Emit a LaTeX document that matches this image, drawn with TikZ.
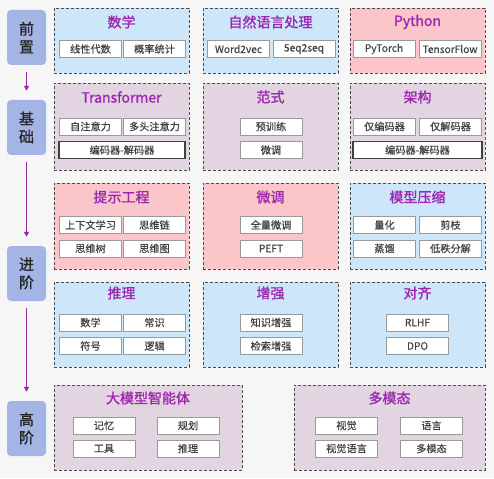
\documentclass[tikz,border=0pt]{standalone}
\usepackage{fontspec}
\usetikzlibrary{arrows.meta}
\setmainfont{Noto Sans CJK SC}
\newfontfamily\titlefont[FakeBold=1.3]{Noto Sans CJK SC}
\newfontfamily\stagefont[FakeBold=1]{Noto Sans CJK SC}
\newfontfamily\itemfont[FakeBold=0.3]{Noto Sans CJK SC}
\definecolor{bgray}{RGB}{246,246,247}
\definecolor{lblue}{RGB}{206,230,250}
\definecolor{lpink}{RGB}{250,198,202}
\definecolor{lmauve}{RGB}{226,212,224}
\definecolor{stageblue}{RGB}{164,180,228}
\definecolor{tpurple}{RGB}{156,39,176}
\definecolor{apurple}{RGB}{150,40,160}
\begin{document}
\begin{tikzpicture}[x=1pt,y=-1pt,
  stagebox/.style={fill=stageblue,rounded corners=4pt,minimum width=39,minimum height=55,
    inner sep=0,align=center,font=\stagefont\fontsize{15}{18}\selectfont,text=black!85},
  stagearrow/.style={draw=apurple,line width=1.4pt,-{Triangle[length=5pt,width=5pt]},
    shorten <=7pt,shorten >=9pt},
  topicbox/.style={draw=black!70,dashed,dash pattern=on 3pt off 2pt,line width=0.9pt,
    inner sep=0,outer sep=0},
  titletext/.style={text=tpurple,font=\titlefont\fontsize{14}{16}\selectfont},
  itembox/.style={draw=black!40,fill=white,line width=0.6pt,minimum width=62,
    minimum height=17,inner sep=0,font=\itemfont\fontsize{10.2}{12}\selectfont,text=black!75},
  widebox/.style={itembox,draw=black!75,line width=1.1pt}]
\fill[bgray] (0,0) rectangle (494,478);

% stages
\node[stagebox] (pre) at (26.5,37.5) {前\\置};
\node[stagebox] (base) at (26.5,127.5) {基\\础};
\node[stagebox] (adv) at (26.5,273.5) {进\\阶};
\node[stagebox] (high) at (26.5,428.5) {高\\阶};
\draw[stagearrow] (pre.south) -- (base.north);
\draw[stagearrow] (base.south) -- (adv.north);
\draw[stagearrow] (adv.south) -- (high.north);

% row 1
\node[topicbox,fill=lblue,minimum width=135,minimum height=65] (math) at (121.5,40.5) {};
\node[topicbox,fill=lblue,minimum width=135,minimum height=65] (nlp) at (270.5,40.5) {};
\node[topicbox,fill=lpink,minimum width=135,minimum height=65] (py) at (417.5,40.5) {};
\node[titletext] (mathT) at (121.5,22) {数学};
\node[titletext] (nlpT) at (270.5,22) {自然语言处理};
\node[titletext] (pyT) at (417.5,22) {Python};
\node[itembox] (la) at (90.5,49) {线性代数};
\node[itembox] (prob) at (154.5,49) {概率统计};
\node[itembox] (w2v) at (238.5,49) {Word2vec};
\node[itembox] (s2s) at (304,49) {5eq2seq};
\node[itembox] (torch) at (384,49) {PyTorch};
\node[itembox] (tf) at (450,49) {TensorFlow};

% row 2
\node[topicbox,fill=lmauve,minimum width=135,minimum height=87] (trf) at (121.5,126.5) {};
\node[topicbox,fill=lmauve,minimum width=135,minimum height=87] (para) at (270.5,126.5) {};
\node[topicbox,fill=lmauve,minimum width=135,minimum height=87] (arch) at (417.5,126.5) {};
\node[titletext] (trfT) at (121.5,97) {Transformer};
\node[titletext] (paraT) at (270.5,97) {范式};
\node[titletext] (archT) at (417.5,97) {架构};
\node[itembox] (selfatt) at (90.5,126.5) {自注意力};
\node[itembox] (mhatt) at (154.5,126.5) {多头注意力};
\node[widebox,minimum width=126] (encdec1) at (122,150) {编码器-解码器};
\node[itembox] (pretrain) at (271,126.5) {预训练};
\node[itembox] (finetune) at (271,150) {微调};
\node[itembox] (enc) at (384.5,126.5) {仅编码器};
\node[itembox] (dec) at (450.5,126.5) {仅解码器};
\node[widebox,minimum width=129] (encdec2) at (417.5,150) {编码器-解码器};

% row 3
\node[topicbox,fill=lpink,minimum width=135,minimum height=86] (prompt) at (121.5,226) {};
\node[topicbox,fill=lpink,minimum width=135,minimum height=86] (ft) at (270.5,226) {};
\node[topicbox,fill=lblue,minimum width=135,minimum height=86] (comp) at (417.5,226) {};
\node[titletext] (promptT) at (121.5,197) {提示工程};
\node[titletext] (ftT) at (270.5,197) {微调};
\node[titletext] (compT) at (417.5,197) {模型压缩};
\node[itembox] (icl) at (90.5,225) {上下文学习};
\node[itembox] (cot) at (154.5,225) {思维链};
\node[itembox] (tot) at (90.5,248.5) {思维树};
\node[itembox] (got) at (154.5,248.5) {思维图};
\node[itembox] (fullft) at (271,225) {全量微调};
\node[itembox] (peft) at (271,248.5) {PEFT};
\node[itembox] (quant) at (384.5,225) {量化};
\node[itembox] (prune) at (450.5,225) {剪枝};
\node[itembox] (distill) at (384.5,248.5) {蒸馏};
\node[itembox] (lowrank) at (450.5,248.5) {低秩分解};

% row 4
\node[topicbox,fill=lblue,minimum width=135,minimum height=85] (reason) at (121.5,324.5) {};
\node[topicbox,fill=lblue,minimum width=135,minimum height=85] (enh) at (270.5,324.5) {};
\node[topicbox,fill=lblue,minimum width=135,minimum height=85] (align) at (417.5,324.5) {};
\node[titletext] (reasonT) at (121.5,293) {推理};
\node[titletext] (enhT) at (270.5,293) {增强};
\node[titletext] (alignT) at (417.5,293) {对齐};
\node[itembox] (rmath) at (90.5,322.5) {数学};
\node[itembox] (common) at (154.5,322.5) {常识};
\node[itembox] (symb) at (90.5,346) {符号};
\node[itembox] (logic) at (154.5,346) {逻辑};
\node[itembox] (know) at (271,322.5) {知识增强};
\node[itembox] (rag) at (271,346) {检索增强};
\node[itembox] (rlhf) at (417.5,322.5) {RLHF};
\node[itembox] (dpo) at (417.5,346) {DPO};

% row 5
\node[topicbox,fill=lmauve,minimum width=188,minimum height=85] (agent) at (148,427.5) {};
\node[topicbox,fill=lmauve,minimum width=191,minimum height=85] (mm) at (389.5,427.5) {};
\node[titletext] (agentT) at (148,398) {大模型智能体};
\node[titletext] (mmT) at (389.5,398) {多模态};
\node[itembox] (mem) at (104,425.5) {记忆};
\node[itembox] (plan) at (188,425.5) {规划};
\node[itembox] (tool) at (104,448.5) {工具};
\node[itembox] (infer) at (188,448.5) {推理};
\node[itembox] (vision) at (346.5,425.5) {视觉};
\node[itembox] (lang) at (431.5,425.5) {语言};
\node[itembox] (vl) at (346.5,448.5) {视觉语言};
\node[itembox] (multi) at (431.5,448.5) {多模态};
\end{tikzpicture}
\end{document}
